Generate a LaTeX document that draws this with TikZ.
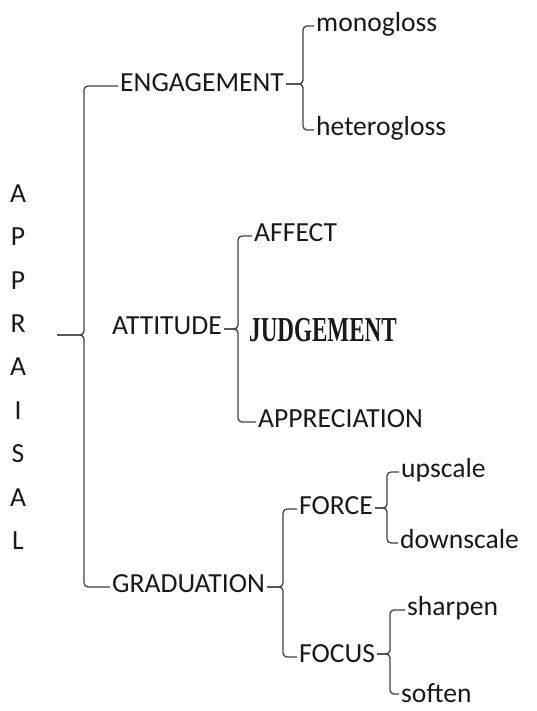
\documentclass[tikz,border=0pt]{standalone}
\usepackage{fontspec}
\setmainfont{Carlito}
\newfontfamily\judgfont{Liberation Serif}
\usepackage{graphicx}
\usepackage{tikz}
\tikzstyle{brace}=[line width=1.3pt, color=black!75, rounded corners=4pt]

\begin{document}
\begin{tikzpicture}[x=1pt, y=-1pt,
  term/.style={anchor=west, inner xsep=2pt, inner ysep=0pt,
               text height=19pt, text depth=8pt, text=black!90,
               font=\fontsize{27.6}{32}\selectfont},
  stack/.style={align=center, inner sep=0pt, minimum width=78pt,
               text=black!90, font=\fontsize{27.6}{43.4}\selectfont}
]
\useasboundingbox (0,0) rectangle (536,711);

\node[stack] (appr) at (18,367) {A\\P\\P\\R\\A\\I\\S\\A\\L};

\node[term] (eng)  at (118,86)  {ENGAGEMENT};
\node[term] (att)  at (110,329) {ATTITUDE};
\node[term] (grad) at (110,587) {GRADUATION};

\node[term] (mono)   at (314,26)  {monogloss};
\node[term] (hetero) at (314,130) {heterogloss};

\node[term] (aff) at (252,236) {AFFECT};
\node[term, text height=26pt, text depth=4pt] (judg) at (247,330)
     {\scalebox{0.66}[1]{\judgfont\bfseries\fontsize{35}{40}\selectfont JUDGEMENT}};
\node[term] (apc) at (256,422) {APPRECIATION};

\node[term] (force) at (297,509) {FORCE};
\node[term] (focus) at (297,657) {FOCUS};
\node[term] (up)    at (399,472) {upscale};
\node[term] (down)  at (398,543) {downscale};
\node[term] (sharp) at (405,610) {sharpen};
\node[term, text depth=3pt] (soft) at (399,694) {soften};

% brace spines
\coordinate (mainB)  at (84,335);
\coordinate (engB)   at (303,84);
\coordinate (attB)   at (238,329);
\coordinate (gradB)  at (283,587);
\coordinate (forceB) at (387,508);
\coordinate (focusB) at (390,654);

\draw[brace] (appr.east |- mainB) -- (mainB) |- (eng.west);
\draw[brace] (appr.east |- mainB) -- (mainB) |- (grad.west);

\draw[brace] (eng.east |- engB) -- (engB) |- (mono.west);
\draw[brace] (eng.east |- engB) -- (engB) |- (hetero.west);

\draw[brace] (att.east) -- (attB) |- (aff.west);
\draw[brace] (att.east) -- (attB) |- (apc.west);

\draw[brace] (grad.east) -- (gradB) |- (force.west);
\draw[brace] (grad.east) -- (gradB) |- (focus.west);

\draw[brace] (force.east |- forceB) -- (forceB) |- (up.west);
\draw[brace] (force.east |- forceB) -- (forceB) |- (down.west);

\draw[brace] (focus.east |- focusB) -- (focusB) |- (sharp.west);
\draw[brace] (focus.east |- focusB) -- (focusB) |- (soft.west);
\end{tikzpicture}
\end{document}
